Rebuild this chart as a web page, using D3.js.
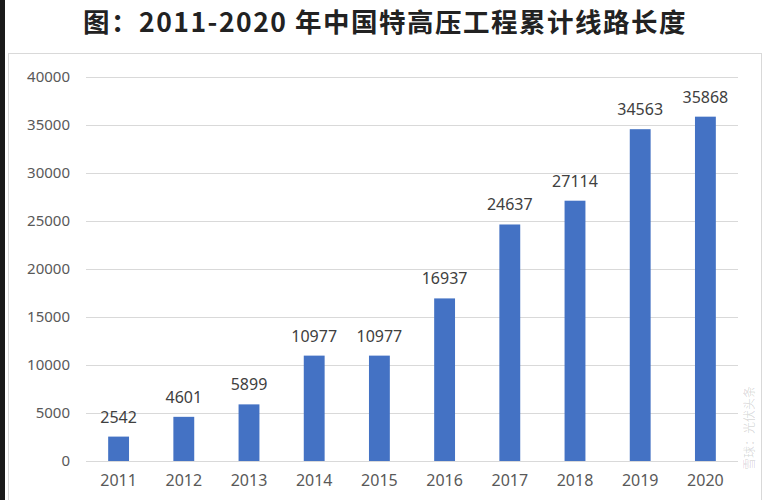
<!DOCTYPE html>
<html>
<head>
<meta charset="utf-8">
<script src="https://cdn.jsdelivr.net/npm/d3@7"></script>
<style>
  body { margin: 0; background: #fff; }
  svg { display: block; }
</style>
</head>
<body>
<div id="chart"></div>
<script>
// Data
const years = ["2011", "2012", "2013", "2014", "2015", "2016", "2017", "2018", "2019", "2020"];
const lengths = [2542, 4601, 5899, 10977, 10977, 16937, 24637, 27114, 34563, 35868];
const yTicks = [0, 5000, 10000, 15000, 20000, 25000, 30000, 35000, 40000];
const title = "图：2011-2020 年中国特高压工程累计线路长度";

const W = 768, H = 500;
const margin = {top: 77, right: 30, bottom: 39, left: 86};

const svg = d3.select("#chart").append("svg")
    .attr("width", W)
    .attr("height", H);

// dark strip on the left edge and the chart frame
svg.append("rect").attr("x", 0).attr("y", 0).attr("width", 5).attr("height", H).attr("fill", "#1a1a1a");
svg.append("rect")
    .attr("x", 8.5).attr("y", 53.5)
    .attr("width", 753).attr("height", 460)
    .attr("fill", "none")
    .attr("stroke", "#d9d9d9");

// Title
svg.append("text")
    .attr("x", 385)
    .attr("y", 32)
    .attr("text-anchor", "middle")
    .style("font-family", "'Noto Sans CJK SC', sans-serif")
    .style("font-weight", "bold")
    .style("font-size", "26.5px")
    .style("letter-spacing", "1.5px")
    .style("fill", "#222")
    .text(title);

const x = d3.scaleBand()
    .domain(years)
    .range([margin.left, W - margin.right])
    .paddingInner(0.68)
    .paddingOuter(0.34);

const y = d3.scaleLinear()
    .domain([0, 40000])
    .range([H - margin.bottom, margin.top]);

// Grid lines + y labels
const yAxis = svg.append("g")
    .attr("transform", "translate(" + margin.left + ",0)")
    .call(d3.axisLeft(y).tickValues(yTicks).tickFormat(d3.format("d"))
        .tickSize(-(W - margin.left - margin.right)).tickPadding(16));
yAxis.select(".domain").remove();
yAxis.selectAll(".tick line").attr("stroke", "#d9d9d9");
yAxis.selectAll(".tick text")
    .style("font-family", "'Noto Sans', sans-serif")
    .style("font-size", "15px")
    .style("fill", "#595959");

// x labels
const xAxis = svg.append("g")
    .attr("transform", "translate(0," + (H - margin.bottom) + ")")
    .call(d3.axisBottom(x).tickSize(0).tickPadding(14));
xAxis.select(".domain").remove();
xAxis.selectAll(".tick text")
    .style("font-family", "'Noto Sans', sans-serif")
    .style("font-size", "16px")
    .style("fill", "#595959");

// Bars
svg.selectAll(".bar")
    .data(lengths)
    .enter().append("rect")
    .attr("class", "bar")
    .attr("x", function(d, i) { return x(years[i]); })
    .attr("y", function(d) { return y(d); })
    .attr("width", x.bandwidth())
    .attr("height", function(d) { return y(0) - y(d); })
    .attr("fill", "#4472c4");

// Value labels
svg.selectAll(".val")
    .data(lengths)
    .enter().append("text")
    .attr("class", "val")
    .attr("x", function(d, i) { return x(years[i]) + x.bandwidth() / 2; })
    .attr("y", function(d) { return y(d) - 14; })
    .attr("text-anchor", "middle")
    .style("font-family", "'Noto Sans', sans-serif")
    .style("font-size", "16px")
    .style("fill", "#404040")
    .text(function(d) { return d; });

// faint watermark, tucked into the right margin so it does not cover the labels
svg.append("text")
    .attr("transform", "translate(754,470) rotate(-90)")
    .attr("text-anchor", "start")
    .style("font-family", "'Noto Sans CJK SC', sans-serif")
    .style("font-size", "12px")
    .style("fill", "#000")
    .style("fill-opacity", 0.15)
    .text("雪球：光伏头条");
</script>
</body>
</html>
